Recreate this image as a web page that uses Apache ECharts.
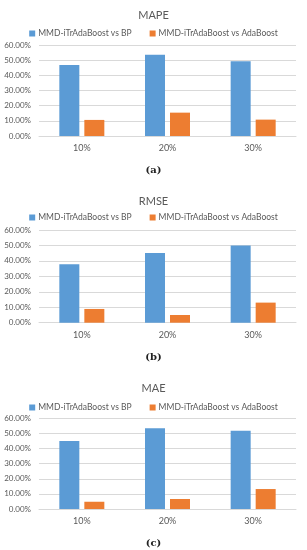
<!DOCTYPE html>
<html><head><meta charset="utf-8">
<script src="https://cdn.jsdelivr.net/npm/echarts@6/dist/echarts.min.js"></script>
<style>html,body{margin:0;padding:0;background:#fff}#c{width:307px;height:550px}</style>
</head><body><div id="c"></div>
<script>
var categories = ['10%', '20%', '30%'];
var seriesNames = ['MMD-iTrAdaBoost vs BP', 'MMD-iTrAdaBoost vs AdaBoost'];
var panelTitles = ['MAPE', 'RMSE', 'MAE'];
var panelLabels = ['(a)', '(b)', '(c)'];
var mapeBP = [46.8, 53.6, 49.3];
var mapeAda = [10.6, 15.4, 10.8];
var rmseBP = [37.8, 45.1, 49.9];
var rmseAda = [8.9, 5.0, 13.0];
var maeBP = [45.0, 53.4, 51.8];
var maeAda = [4.8, 6.6, 13.2];

var panelData = [[mapeBP, mapeAda], [rmseBP, rmseAda], [maeBP, maeAda]];
var colors = ['#5B9BD5', '#ED7D31'];
var font = 'Lato';
var txt = '#595959';

var layout = [
  {title: 5, legend: 24, gridTop: 45, gridH: 91, label: 160},
  {title: 191, legend: 208, gridTop: 230, gridH: 92.7, label: 347},
  {title: 378, legend: 398, gridTop: 418.3, gridH: 90.7, label: 533}
];

var option = {
  animation: false,
  backgroundColor: '#fff',
  title: [], legend: [], grid: [], xAxis: [], yAxis: [], series: []
};
layout.forEach(function (L, i) {
  option.title.push({text: panelTitles[i], left: 'center', top: L.title,
    textStyle: {fontFamily: font, fontSize: 11, fontWeight: 'normal', color: txt}});
  option.title.push({text: panelLabels[i], left: 'center', top: L.label,
    textStyle: {fontFamily: 'DejaVu Serif', fontSize: 10, fontWeight: 'bold', color: '#222'}});
  option.legend.push({data: seriesNames, top: L.legend, left: 'center', itemWidth: 6, itemHeight: 6,
    itemGap: 18, icon: 'rect',
    textStyle: {fontFamily: font, fontSize: 8.5, color: txt, padding: [0, 0, 0, -2]}});
  option.grid.push({left: 39, width: 257, top: L.gridTop, height: L.gridH});
  option.xAxis.push({type: 'category', gridIndex: i, data: categories,
    axisLine: {lineStyle: {color: '#d9d9d9'}}, axisTick: {show: false},
    axisLabel: {fontFamily: font, fontSize: 9, color: txt, margin: 8}});
  option.yAxis.push({type: 'value', gridIndex: i, min: 0, max: 60, interval: 10,
    axisLine: {show: false}, axisTick: {show: false},
    splitLine: {lineStyle: {color: '#d9d9d9'}},
    axisLabel: {fontFamily: font, fontSize: 8, color: txt, margin: 8,
      formatter: function (v) { return v.toFixed(2) + '%'; }}});
  panelData[i].forEach(function (d, j) {
    option.series.push({type: 'bar', name: seriesNames[j], xAxisIndex: i, yAxisIndex: i,
      data: d, barWidth: 20, barGap: '25%', itemStyle: {color: colors[j]}});
  });
});
echarts.init(document.getElementById('c')).setOption(option);
</script></body></html>
